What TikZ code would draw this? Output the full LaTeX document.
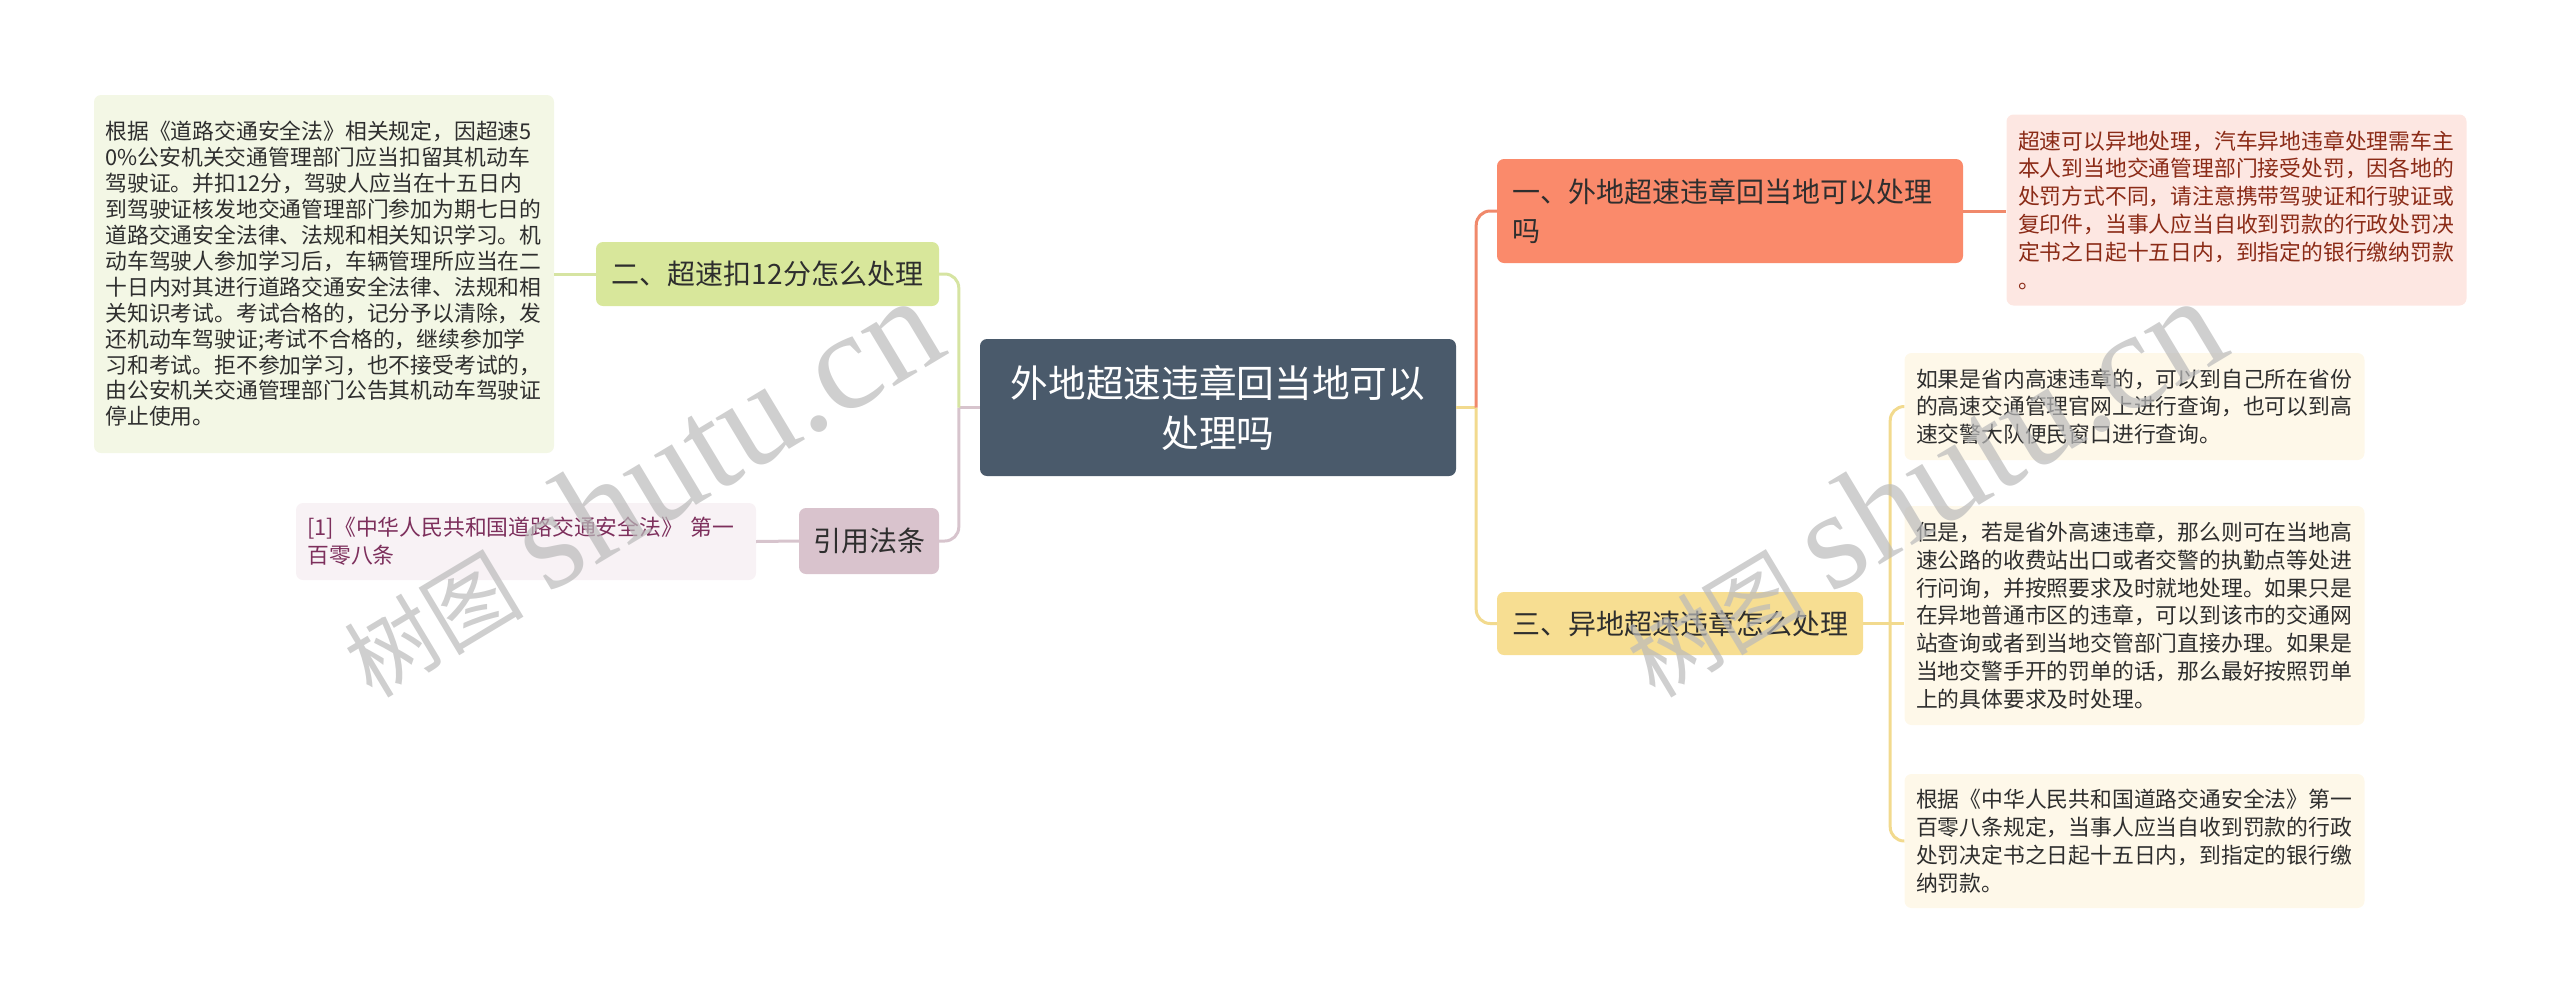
\documentclass[tikz,border=0pt]{standalone}
\usepackage{fontspec}
\setmainfont{Noto Sans CJK SC}
\newfontfamily\wmserif{Liberation Serif}
\usepackage{xcolor}
\usetikzlibrary{calc}

\definecolor{slate}{HTML}{4A5A6B}
\definecolor{ink}{HTML}{2E2E2E}
\definecolor{salmon}{HTML}{FA8A6B}
\definecolor{coral}{HTML}{F0896B}
\definecolor{blush}{HTML}{FDE7E2}
\definecolor{rust}{HTML}{8B2B17}
\definecolor{wheat}{HTML}{F7DE92}
\definecolor{sand}{HTML}{F2DA8E}
\definecolor{cream}{HTML}{FEF8E9}
\definecolor{olive}{HTML}{D8E79B}
\definecolor{leafgreen}{HTML}{D6E4A2}
\definecolor{mint}{HTML}{F3F7E5}
\definecolor{mauve}{HTML}{D9C3CD}
\definecolor{lilac}{HTML}{D7C4CD}
\definecolor{petal}{HTML}{F8F2F5}
\definecolor{plum}{HTML}{7D2F5C}

\begin{document}
\begin{tikzpicture}[x=1pt, y=-1pt,
      every node/.style = {rounded corners=7pt, inner sep=0pt, align=center},
      topic/.style = {fill=slate, text=white, font=\fontsize{37.7}{50}\selectfont},
      branch/.style = {text=ink, font=\fontsize{28}{38.5}\selectfont},
      leaf/.style = {align=left, text=ink, inner xsep=11.5pt, text width=437pt,
        font=\fontsize{21.8}{27.8}\selectfont},
      link/.style = {line width=3pt, rounded corners=14pt},
      wmark/.style = {anchor=base west, rotate=31, text=black!27, text opacity=0.7}]
    \useasboundingbox (0,0) rectangle (2560,1002);
    \node[topic, minimum width=476pt, minimum height=137pt] (root) at (1218,407.5)
      {外地超速违章回当地可以\\处理吗};
    \node[branch, fill=salmon, align=left, text width=436pt, inner xsep=15pt,
      minimum height=104pt] (n1) at (1730,211) {一、外地超速违章回当地可以处理\\吗};
    \node[branch, fill=wheat, minimum width=366pt, minimum height=63pt] (n3) at (1680,623.5)
      {三、异地超速违章怎么处理};
    \node[branch, fill=olive, minimum width=343pt, minimum height=64pt] (n2) at (767.5,274)
      {二、超速扣12分怎么处理};
    \node[branch, fill=mauve, minimum width=140pt, minimum height=66pt] (law) at (869,541)
      {引用法条};
    \node[leaf, fill=blush, text=rust, minimum height=191pt] (fine) at (2236.5,210)
      {超速可以异地处理，汽车异地违章处理需车主\\本人到当地交通管理部门接受处罚，因各地的\\处罚方式不同，请注意携带驾驶证和行驶证或\\复印件，当事人应当自收到罚款的行政处罚决\\定书之日起十五日内，到指定的银行缴纳罚款\\。};
    \node[leaf, fill=cream, minimum height=107pt] (inprov) at (2134.5,406.5)
      {如果是省内高速违章的，可以到自己所在省份\\的高速交通管理官网上进行查询，也可以到高\\速交警大队便民窗口进行查询。};
    \node[leaf, fill=cream, minimum height=219pt] (outprov) at (2134.5,615.5)
      {但是，若是省外高速违章，那么则可在当地高\\速公路的收费站出口或者交警的执勤点等处进\\行问询，并按照要求及时就地处理。如果只是\\在异地普通市区的违章，可以到该市的交通网\\站查询或者到当地交管部门直接办理。如果是\\当地交警手开的罚单的话，那么最好按照罚单\\上的具体要求及时处理。};
    \node[leaf, fill=cream, minimum height=134pt] (rule) at (2134.5,841)
      {根据《中华人民共和国道路交通安全法》第一\\百零八条规定，当事人应当自收到罚款的行政\\处罚决定书之日起十五日内，到指定的银行缴\\纳罚款。};
    \node[leaf, fill=mint, minimum height=358pt, font=\fontsize{21.8}{25.9}\selectfont]
      (points) at (324,274)
      {根据《道路交通安全法》相关规定，因超速5\\0\%公安机关交通管理部门应当扣留其机动车\\驾驶证。并扣12分，驾驶人应当在十五日内\\到驾驶证核发地交通管理部门参加为期七日的\\道路交通安全法律、法规和相关知识学习。机\\动车驾驶人参加学习后，车辆管理所应当在二\\十日内对其进行道路交通安全法律、法规和相\\关知识考试。考试合格的，记分予以清除，发\\还机动车驾驶证;考试不合格的，继续参加学\\习和考试。拒不参加学习，也不接受考试的，\\由公安机关交通管理部门公告其机动车驾驶证\\停止使用。};
    \node[leaf, fill=petal, text=plum, minimum height=77pt] (cite) at (526,541.5)
      {[1]《中华人民共和国道路交通安全法》 第一\\百零八条};
    \coordinate (rj) at ($(root.east)+(20,0)$);
    \coordinate (lj) at ($(root.west)+(-21,0)$);
    \coordinate (tj) at ($(n3.east)+(27,0)$);
    \draw[link, sand] (root.east) -- (rj);
    \draw[link, sand] (rj) |- (n3.west);
    \draw[link, coral] (rj) |- (n1.west);
    \draw[link, coral] (n1.east) -- (n1.east -| fine.west);
    \draw[link, sand] (n3.east) -- (n3.east -| outprov.west);
    \draw[link, sand] (tj) |- (inprov.west);
    \draw[link, sand] (tj) |- (rule.west);
    \draw[link, lilac] (root.west) -- (lj);
    \draw[link, lilac] (lj) |- (law.east);
    \draw[link, leafgreen] (lj) |- (n2.east);
    \draw[link, leafgreen] (n2.west) -- (points.east);
    \draw[link, lilac] (law.west) -- (cite.east);
    \node[wmark] (wm1) at (372,700)
      {\fontsize{90}{90}\selectfont 树图\hspace{25pt}{\wmserif\fontsize{140}{140}\selectfont shutu.cn}};
    \node[wmark] (wm2) at (1655,700)
      {\fontsize{90}{90}\selectfont 树图\hspace{25pt}{\wmserif\fontsize{140}{140}\selectfont shutu.cn}};
\end{tikzpicture}
\end{document}
